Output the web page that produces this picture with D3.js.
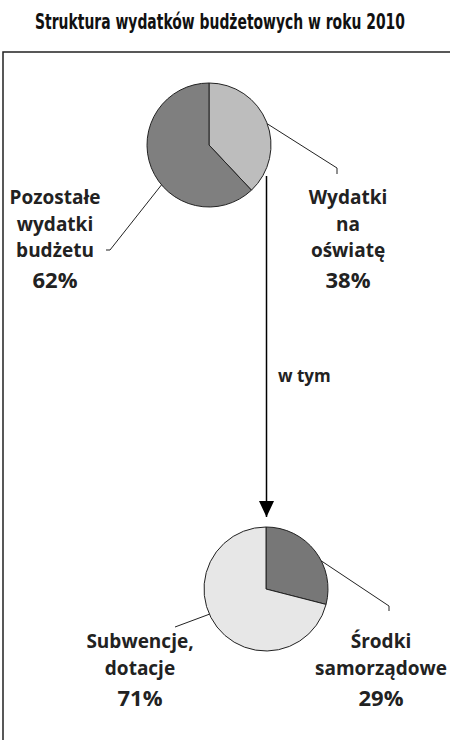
<!DOCTYPE html>
<html>
<head>
<meta charset="utf-8">
<script src="https://cdn.jsdelivr.net/npm/d3@7"></script>
<style>
  body { margin: 0; background: #fff; }
  svg { display: block; }
  .lbl { font-family: 'Open Sans', sans-serif; font-weight: 700; fill: #222; }
</style>
</head>
<body>
<div id="chart"></div>
<script>
const title = 'Struktura wydatków budżetowych w roku 2010'

const topCategories = [['Wydatki', 'na', 'oświatę'], ['Pozostałe', 'wydatki', 'budżetu']]
const topValues = [38, 62]
const bottomCategories = [['Środki', 'samorządowe'], ['Subwencje,', 'dotacje']]
const bottomValues = [29, 71]
const linkLabel = 'w tym'

const width = 450
const height = 740

const svg = d3.select('#chart').append('svg')
    .attr('width', width)
    .attr('height', height)

svg.append('defs').append('marker')
    .attr('id', 'arrow')
    .attr('viewBox', '0 0 16 15')
    .attr('refX', 16)
    .attr('refY', 7.5)
    .attr('markerWidth', 16)
    .attr('markerHeight', 15)
    .attr('markerUnits', 'userSpaceOnUse')
    .attr('orient', 'auto')
    .append('path')
    .attr('d', 'M0,0 L16,7.5 L0,15 Z')
    .attr('fill', '#000')

// title: condensed look by squeezing horizontally to the reference width
const titleText = svg.append('text')
    .attr('text-anchor', 'middle')
    .style('font-family', "'DejaVu Sans Condensed', 'Open Sans', sans-serif")
    .style('font-weight', 700)
    .style('font-size', '22px')
    .style('fill', '#111')
    .text(title)
const tw = titleText.node().getComputedTextLength()
titleText.attr('transform', `translate(220,29) scale(${370 / tw},1)`)

// frame (right and bottom edges run off the page)
svg.append('path')
    .attr('d', `M${width + 5},52 H3 V${height + 5}`)
    .attr('fill', 'none')
    .attr('stroke', '#222')
    .attr('stroke-width', 1.5)

const pie = d3.pie().sort(null)
const radius = 62
const arc = d3.arc().innerRadius(0).outerRadius(radius)

// angle (deg, clockwise from top) where each leader leaves the pie, elbow points, label anchor
const pies = [
    {
        values: topValues, labels: topCategories, cx: 209, cy: 145,
        colors: ['#bdbdbd', '#7f7f7f'],
        leaders: [
            { angle: 70, pts: [[337, 168], [337, 174]] },
            { angle: 230, pts: [[110, 250], [106, 250]] }
        ],
        text: [{ x: 348, y: 204 }, { x: 55, y: 204 }],
        lineGap: 26.5, pctGap: 31
    },
    {
        values: bottomValues, labels: bottomCategories, cx: 266, cy: 589,
        colors: ['#777777', '#e7e7e7'],
        leaders: [
            { angle: 63, pts: [[389, 606], [389, 611]] },
            { angle: 246, pts: [[175, 627]] }
        ],
        text: [{ x: 381, y: 648 }, { x: 140, y: 648 }],
        lineGap: 26.5, pctGap: 31
    }
]

pies.forEach(p => {
    const g = svg.append('g')
        .attr('transform', `translate(${p.cx},${p.cy})`)

    g.selectAll('path.slice')
        .data(pie(p.values))
        .enter().append('path')
        .attr('class', 'slice')
        .attr('d', arc)
        .attr('fill', (d, i) => p.colors[i])
        .attr('stroke', '#222')
        .attr('stroke-width', 1)

    p.leaders.forEach(l => {
        const a = l.angle * Math.PI / 180
        const start = [p.cx + radius * Math.sin(a), p.cy - radius * Math.cos(a)]
        svg.append('path')
            .attr('d', d3.line()([start, ...l.pts]))
            .attr('fill', 'none')
            .attr('stroke', '#222')
            .attr('stroke-width', 1)
    })

    p.labels.forEach((lines, i) => {
        const t = svg.append('text')
            .attr('class', 'lbl')
            .attr('text-anchor', 'middle')
        lines.forEach((s, j) => {
            t.append('tspan')
                .attr('x', p.text[i].x)
                .attr('y', p.text[i].y + j * p.lineGap)
                .style('font-size', '19px')
                .text(s)
        })
        t.append('tspan')
            .attr('x', p.text[i].x)
            .attr('y', p.text[i].y + (lines.length - 1) * p.lineGap + p.pctGap)
            .style('font-size', '22px')
            .text(`${p.values[i]}%`)
    })
})

// arrow from top pie to bottom pie
svg.append('line')
    .attr('x1', 266.5)
    .attr('y1', 176)
    .attr('x2', 266.5)
    .attr('y2', 517)
    .attr('stroke', '#000')
    .attr('stroke-width', 1.5)
    .attr('marker-end', 'url(#arrow)')

svg.append('text')
    .attr('class', 'lbl')
    .attr('x', 278)
    .attr('y', 382)
    .style('font-size', '17px')
    .text(linkLabel)
</script>
</body>
</html>
